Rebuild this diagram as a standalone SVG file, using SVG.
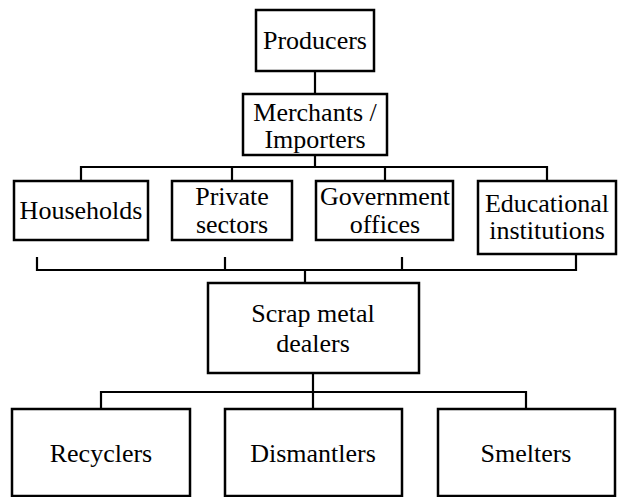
<svg xmlns="http://www.w3.org/2000/svg" width="618" height="497" viewBox="0 0 618 497">
<style>
.box{fill:#fff;stroke:#000;stroke-width:2.5}
.ln{fill:none;stroke:#000;stroke-width:2.2}
.t{font-family:"Times New Roman","Liberation Serif",serif;font-size:26px;fill:#000;text-anchor:middle}
</style>
<rect width="618" height="497" fill="#fff"/>
<g id="connectors">
<path class="ln" d="M315 71V94"/>
<path class="ln" d="M315 155V167M81 181V167H547V181M232 167V181M385 167V181"/>
<path class="ln" d="M37 257V270H576V254M225 257V270M402 257V270M305 270V283"/>
<path class="ln" d="M313 373V392M101 409V392H526V409M313 392V409"/>
</g>
<g id="producers"><rect class="box" x="256" y="10" width="118" height="61"/><text class="t" font-family="Times New Roman" x="315" y="49">Producers</text></g>
<g id="merchants"><rect class="box" x="243" y="94" width="144" height="61"/><text class="t" font-family="Times New Roman" x="315" y="121">Merchants /</text><text class="t" font-family="Times New Roman" x="315" y="148">Importers</text></g>
<g id="households"><rect class="box" x="14" y="181" width="134" height="59"/><text class="t" font-family="Times New Roman" x="81" y="219">Households</text></g>
<g id="private"><rect class="box" x="172" y="181" width="120" height="59"/><text class="t" font-family="Times New Roman" x="232" y="205">Private</text><text class="t" font-family="Times New Roman" x="232" y="233">sectors</text></g>
<g id="government"><rect class="box" x="316" y="181" width="137" height="59"/><text class="t" font-family="Times New Roman" x="385" y="205">Government</text><text class="t" font-family="Times New Roman" x="385" y="233">offices</text></g>
<g id="educational"><rect class="box" x="478" y="181" width="138" height="73"/><text class="t" font-family="Times New Roman" x="547" y="212">Educational</text><text class="t" font-family="Times New Roman" x="547" y="239">institutions</text></g>
<g id="scrap"><rect class="box" x="208" y="283" width="211" height="90"/><text class="t" font-family="Times New Roman" x="313" y="322">Scrap metal</text><text class="t" font-family="Times New Roman" x="313" y="352">dealers</text></g>
<g id="recyclers"><rect class="box" x="12" y="409" width="178" height="87"/><text class="t" font-family="Times New Roman" x="101" y="462">Recyclers</text></g>
<g id="dismantlers"><rect class="box" x="225" y="409" width="177" height="87"/><text class="t" font-family="Times New Roman" x="313" y="462">Dismantlers</text></g>
<g id="smelters"><rect class="box" x="438" y="409" width="177" height="87"/><text class="t" font-family="Times New Roman" x="526" y="462">Smelters</text></g>
</svg>
